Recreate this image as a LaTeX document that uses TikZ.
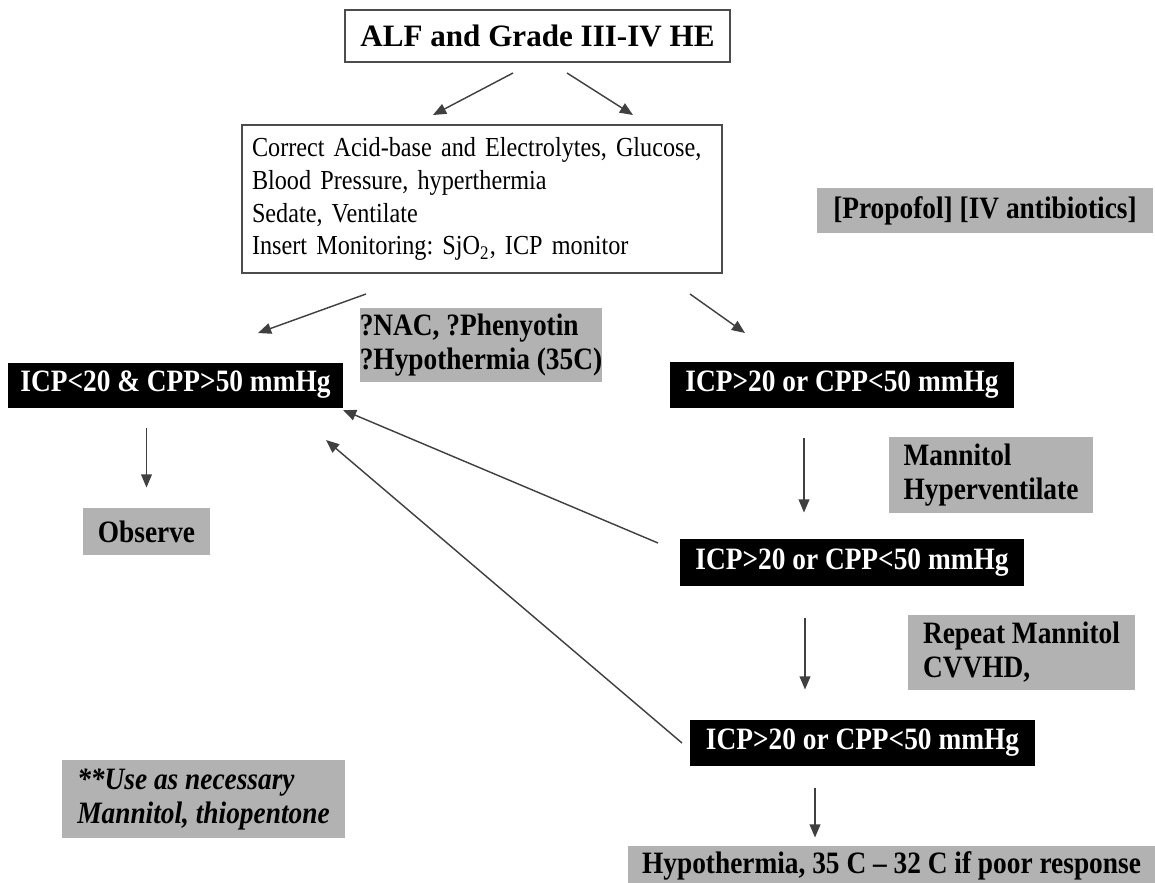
\documentclass[tikz,border=0pt]{standalone}
\usepackage{fontspec}
\setmainfont{Liberation Serif}
\newfontfamily\narrowserif[FakeStretch=0.88,Ligatures=TeX]{Liberation Serif}
\usetikzlibrary{arrows.meta}

\tikzset{
  boxsize/.style 2 args={minimum width={#1*0.0147cm},minimum height={#2*0.0147cm}},
  plainbox/.style={draw=black!70,line width=0.6pt,fill=white,inner sep=0pt},
  greybox/.style={fill=black!30,inner sep=0pt,align=left,
    font=\narrowserif\fontsize{13}{14.2}\selectfont\bfseries},
  blackbox/.style={fill=black,text=white,inner sep=0pt,
    font=\narrowserif\fontsize{13}{14}\selectfont\bfseries},
  flowarrow/.style={draw=black!75,line width=0.6pt,-{Triangle[length=5.5pt,width=4.5pt]}},
}

\begin{document}
\frenchspacing
\begin{tikzpicture}[x=0.0147cm,y=-0.0147cm]

% ---------------- page frame (pixel grid of the scan) ----------------
\useasboundingbox (0,0) rectangle (1155,882);

% ---------------- top of the pathway ----------------
\node[plainbox,boxsize={385}{52},font=\fontsize{13}{15}\selectfont\bfseries]
  (alf) at (537.5,36) {ALF and Grade III-IV HE};

\node[plainbox,boxsize={480}{148},text width={460*0.0147cm},align=left,
  font=\narrowserif\fontsize{11.5}{13.75}\selectfont]
  (correct) at (482,199) {Correct Acid-base and Electrolytes, Glucose,\\
  Blood Pressure, hyperthermia\\
  Sedate, Ventilate\\
  Insert Monitoring: SjO\textsubscript{2}, ICP monitor};

\node[greybox,boxsize={336}{45}] (propofol) at (985,210.5)
  {[Propofol] [IV antibiotics]};

\node[greybox,boxsize={228}{74}] (nac) at (481,345)
  {?NAC, ?Phenyotin\\?Hypothermia (35C)};

% ---------------- left branch ----------------
\node[blackbox,boxsize={335}{45}] (good) at (175.5,385)
  {ICP<20 \& CPP>50 mmHg};
\node[greybox,boxsize={127}{47}] (observe) at (146.5,531.5) {Observe};
\node[greybox,boxsize={283}{78},font=\narrowserif\fontsize{13}{14.2}\selectfont\bfseries\itshape]
  (asneeded) at (203.5,799) {**Use as necessary\\Mannitol, thiopentone};

% ---------------- right branch ----------------
\node[blackbox,boxsize={344}{46}] (highA) at (842,385) {ICP>20 or CPP<50 mmHg};
\node[greybox,boxsize={204}{76}] (mannitol) at (991,475) {Mannitol\\Hyperventilate};
\node[blackbox,boxsize={344}{47}] (highB) at (852,562.5) {ICP>20 or CPP<50 mmHg};
\node[greybox,boxsize={227}{75}] (repeat) at (1021.5,652.5) {Repeat Mannitol\\CVVHD,};
\node[blackbox,boxsize={345}{46}] (highC) at (862.5,743) {ICP>20 or CPP<50 mmHg};
\node[greybox,boxsize={527}{40}] (hypo) at (891.5,866)
  {Hypothermia, 35 C – 32 C if poor response};

% ---------------- arrow end points ----------------
\coordinate (alfL)    at (513,73);
\coordinate (alfLtip) at (433,115);
\coordinate (alfR)    at (567,73);
\coordinate (alfRtip) at (633,115);
\coordinate (corL)    at (366,294);
\coordinate (corLtip) at (258,333);
\coordinate (corR)    at (690,294);
\coordinate (corRtip) at (745,333);
\coordinate (goodtip) at (343,410);
\coordinate (backtip) at (326,440);
\coordinate (backA)   at (658,543);
\coordinate (backB)   at (682,743);

% ---------------- arrows ----------------
\draw[flowarrow] (alfL) -- (alfLtip);
\draw[flowarrow] (alfR) -- (alfRtip);
\draw[flowarrow] (corL) -- (corLtip);
\draw[flowarrow] (corR) -- (corRtip);

\draw[flowarrow] ([yshift=-20*0.0147cm]good.south -| observe) -- ([yshift=20*0.0147cm]observe.north);

\draw[flowarrow] ([yshift=-30*0.0147cm]highA.south -| 804,0) -- ([yshift=26*0.0147cm]highB.north -| 804,0);
\draw[flowarrow] ([yshift=-32*0.0147cm]highB.south -| 805,0) -- ([yshift=30*0.0147cm]highC.north -| 805,0);
\draw[flowarrow] ([yshift=-22*0.0147cm]highC.south -| 815,0) -- ([yshift=8*0.0147cm]hypo.north -| 815,0);

% feedback arrows back to the controlled state
\draw[flowarrow] (backA) -- (goodtip);
\draw[flowarrow] (backB) -- (backtip);

\end{tikzpicture}
\end{document}
